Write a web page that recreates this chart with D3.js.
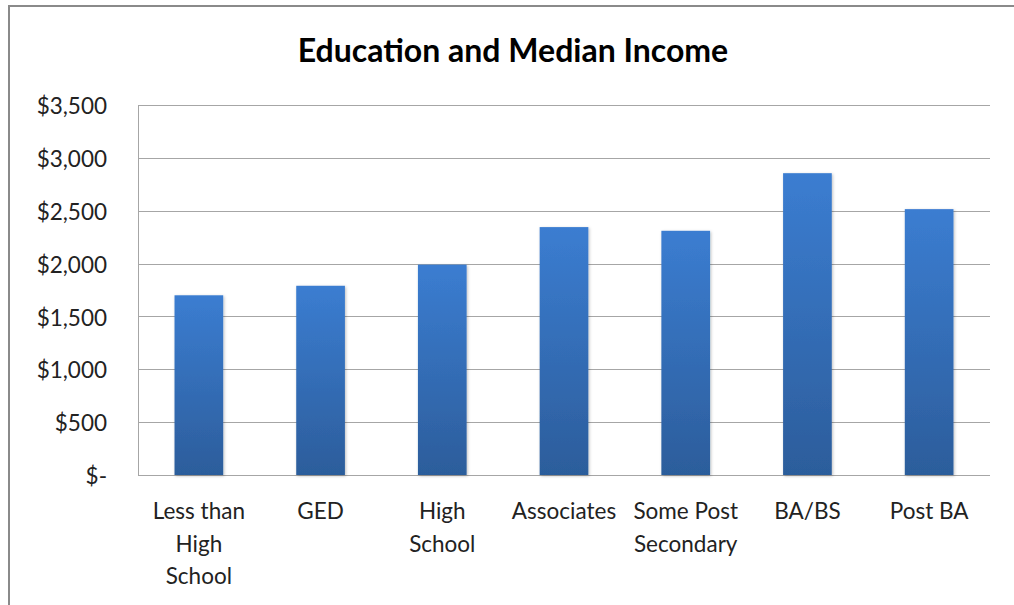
<!DOCTYPE html>
<html>
<head>
	<title>Education and Median Income</title>
	<style>
		body { margin: 0; background: #fff; }
		text { font-family: Lato, "Open Sans", sans-serif; fill: #222; }
	</style>
</head>
<body>
	<svg id="container" width="1014" height="605"></svg>
</body>
<script src="https://d3js.org/d3.v7.min.js"></script>
<script>
	// values
	let categories = ["Less than High School", "GED", "High School", "Associates", "Some Post Secondary", "BA/BS", "Post BA"]
	let tickLines = [["Less than", "High", "School"], ["GED"], ["High", "School"], ["Associates"], ["Some Post", "Secondary"], ["BA/BS"], ["Post BA"]]
	let income = [1700, 1790, 1990, 2345, 2310, 2855, 2515]
	let yTicks = [0, 500, 1000, 1500, 2000, 2500, 3000, 3500]

	let svg = d3.select("#container")

	// chart frame (runs off the right/bottom edge like the screenshot)
	svg.append("rect")
		.attr("x", 9).attr("y", 6)
		.attr("width", 1030).attr("height", 630)
		.attr("fill", "none")
		.attr("stroke", "#8a8a8a")
		.attr("stroke-width", 2)

	let defs = svg.append("defs")
	let grad = defs.append("linearGradient")
		.attr("id", "barGrad")
		.attr("x1", 0).attr("y1", 0).attr("x2", 0).attr("y2", 1)
	grad.append("stop").attr("offset", "0%").attr("stop-color", "#3b7dd1")
	grad.append("stop").attr("offset", "100%").attr("stop-color", "#2c5d9b")

	let shadow = defs.append("filter").attr("id", "shadow")
		.attr("x", "-20%").attr("y", "-5%").attr("width", "140%").attr("height", "110%")
	shadow.append("feDropShadow")
		.attr("dx", 1).attr("dy", 1).attr("stdDeviation", 1.5)
		.attr("flood-color", "#000").attr("flood-opacity", 0.25)

	let plotLeft = 138, plotRight = 990, plotTop = 105, plotBottom = 475

	let x = d3.scaleBand()
		.domain(categories)
		.range([plotLeft, plotRight])
		.paddingInner(0.6)
		.paddingOuter(0.3)

	let y = d3.scaleLinear()
		.domain([0, 3500])
		.range([plotBottom, plotTop])

	// gridlines
	svg.append("g")
		.selectAll("line")
		.data(yTicks)
		.enter()
		.append("line")
			.attr("x1", plotLeft).attr("x2", plotRight)
			.attr("y1", d => Math.round(y(d)) + 0.5)
			.attr("y2", d => Math.round(y(d)) + 0.5)
			.attr("stroke", "#a6a6a6")

	// y axis line
	svg.append("line")
		.attr("x1", plotLeft + 0.5).attr("x2", plotLeft + 0.5)
		.attr("y1", plotTop).attr("y2", plotBottom)
		.attr("stroke", "#a6a6a6")

	// bars
	svg.append("g")
		.selectAll("rect")
		.data(income)
		.enter()
		.append("rect")
			.attr("x", (d, i) => x(categories[i]))
			.attr("y", d => y(d))
			.attr("width", x.bandwidth())
			.attr("height", d => y(0) - y(d))
			.attr("fill", "url(#barGrad)")
			.attr("filter", "url(#shadow)")

	// y tick labels
	let fmt = d => d === 0 ? "$-" : "$" + d3.format(",")(d)
	svg.append("g")
		.selectAll("text")
		.data(yTicks)
		.enter()
		.append("text")
			.attr("x", 107)
			.attr("y", d => y(d) + 1)
			.attr("dy", "0.36em")
			.attr("text-anchor", "end")
			.attr("font-size", 22.5)
			.text(fmt)

	// x tick labels
	let xl = svg.append("g")
		.selectAll("text")
		.data(categories)
		.enter()
		.append("text")
			.attr("x", d => x(d) + x.bandwidth() / 2)
			.attr("y", 519)
			.attr("text-anchor", "middle")
			.attr("font-size", 22.5)
	xl.selectAll("tspan")
		.data((d, i) => tickLines[i])
		.enter()
		.append("tspan")
			.attr("x", function () { return this.parentNode.getAttribute("x") })
			.attr("dy", (d, i) => i === 0 ? 0 : 32.5)
			.text(d => d)

	// title
	svg.append("text")
		.attr("x", 513)
		.attr("y", 62)
		.attr("text-anchor", "middle")
		.attr("font-size", 32)
		.attr("font-weight", "bold")
		.style("fill", "#000")
		.text("Education and Median Income")
</script>
</html>
